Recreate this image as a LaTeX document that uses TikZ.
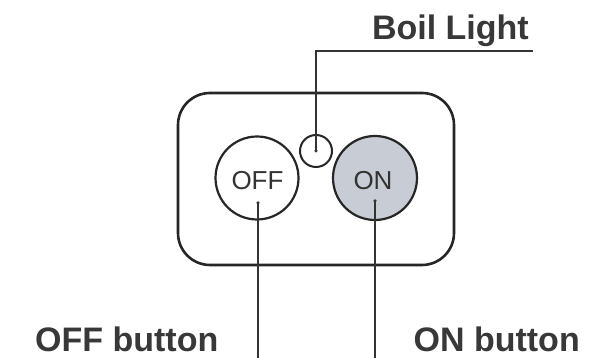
\documentclass[tikz,border=0pt]{standalone}
\usepackage{fontspec}
\setmainfont{Liberation Sans}
\begin{document}
\begin{tikzpicture}[x=1pt,y=1pt,
  ink/.style={draw=black!85, line width=2.2pt},
  leader/.style={draw=black!80, line width=1.1pt},
  lbl/.style={inner sep=0pt, text=black!78, font=\fontsize{34}{34}\selectfont\bfseries},
  btntext/.style={inner sep=0pt, text=black!80, font=\fontsize{26}{26}\selectfont},
  dotmark/.style={circle, fill=black!80, inner sep=0pt, minimum size=3.5pt}]
\useasboundingbox (0,0) rectangle (590,358);
% housing
\draw[ink, line width=2.6pt, rounded corners=32pt] (178,93) rectangle (454,265);
% buttons
\node[ink, circle, minimum size=83pt, inner sep=0pt] (off) at (257,180) {};
\node[ink, circle, fill={rgb,255:red,200;green,204;blue,212}, minimum size=84pt, inner sep=0pt] (on) at (375,180) {};
\node[ink, line width=2pt, circle, minimum size=32pt, inner sep=0pt] (boil) at (316,207) {};
\node[btntext, anchor=base] (offt) at (257.5,168) {OFF};
\node[btntext, anchor=base] (ont) at (373,168) {ON};
% dots
\node[dotmark] (boildot) at (316,207) {};
\node[dotmark] (offdot) at (258,155) {};
\node[dotmark] (ondot) at (375,157) {};
% labels
\node[lbl, anchor=base east] (boillbl) at (529,318) {Boil Light};
\node[lbl, anchor=base west] (offlbl) at (35,6) {OFF button};
\node[lbl, anchor=base east] (onlbl) at (580,6) {ON button};
\coordinate (bend) at (316,307);
\coordinate (bend2) at (533,307);
\coordinate (offend) at (258,0);
\coordinate (onend) at (375,0);
% leaders
\draw[leader] (boildot.center) -- (bend) -- (bend2);
\draw[leader] (offdot.center) -- (offend);
\draw[leader] (ondot.center) -- (onend);
\end{tikzpicture}
\end{document}
